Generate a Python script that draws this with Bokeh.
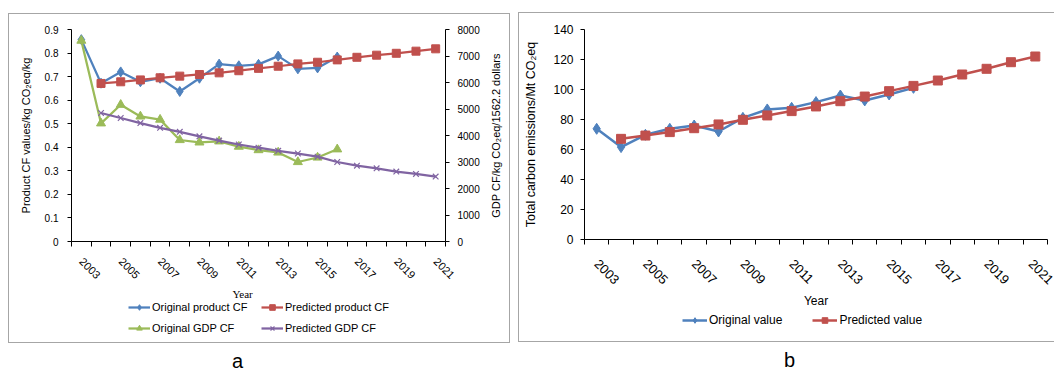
import math
from bokeh.plotting import figure
from bokeh.models import (Range1d, LinearAxis, FixedTicker, NumeralTickFormatter,
                          Legend, LegendItem, Title, Div, GlobalInlineStyleSheet)
from bokeh.layouts import row, column
from bokeh.embed import file_html
from bokeh.resources import INLINE

# ---------------- data ----------------
years = list(range(2003, 2022))
labeled_years = years[::2]
orig_years = list(range(2003, 2017))
pred_years = list(range(2004, 2022))

# panel a (left axis: kg CO2eq/kg, right axis: kg CO2eq / 1562.2 dollars)
orig_product_cf = [0.857, 0.672, 0.720, 0.678, 0.693, 0.637, 0.693, 0.753, 0.746,
                   0.752, 0.787, 0.733, 0.737, 0.783]
pred_product_cf = [0.671, 0.678, 0.686, 0.695, 0.702, 0.709, 0.716, 0.725, 0.735,
                   0.744, 0.754, 0.761, 0.771, 0.782, 0.791, 0.799, 0.808, 0.818]
orig_gdp_cf = [7580, 4460, 5160, 4720, 4600, 3830, 3740, 3780, 3580, 3450, 3360,
               3000, 3170, 3480]
pred_gdp_cf = [4850, 4660, 4470, 4290, 4140, 3970, 3810, 3660, 3540, 3420, 3320,
               3200, 3000, 2860, 2760, 2640, 2550, 2450]

# panel b (Mt CO2eq)
orig_total = [73.8, 61.6, 69.8, 73.8, 76.0, 72.0, 81.1, 86.7, 87.8, 91.6, 96.0,
              92.7, 96.7, 101.1]
pred_total = [67.1, 69.3, 71.6, 74.2, 76.7, 79.8, 82.7, 85.6, 88.7, 92.2, 95.3,
              98.9, 102.4, 106.0, 110.0, 113.8, 118.2, 122.0]

left_ticks_a = [0, 0.1, 0.2, 0.3, 0.4, 0.5, 0.6, 0.7, 0.8, 0.9]
right_ticks_a = [0, 1000, 2000, 3000, 4000, 5000, 6000, 7000, 8000]
ticks_b = [0, 20, 40, 60, 80, 100, 120, 140]

BLUE = "#4F81BD"
RED = "#C0504D"
GREEN = "#9BBB59"
PURPLE = "#8064A2"
FONT = "Liberation Sans"
BORDER = "1px solid #a6a6a6"


def xpos(yrs):
    return [years.index(y) + 0.5 for y in yrs]


def style_xaxis(ax, size, standoff):
    centers = [years.index(y) + 0.5 for y in labeled_years]
    ax.ticker = FixedTicker(ticks=centers, minor_ticks=list(range(len(years) + 1)))
    ax.major_label_overrides = {c: str(y) for c, y in zip(centers, labeled_years)}
    ax.major_tick_line_color = None
    ax.major_tick_out = 0
    ax.major_tick_in = 0
    ax.minor_tick_line_color = "black"
    ax.minor_tick_in = 0
    ax.minor_tick_out = 5
    ax.axis_line_color = "black"
    ax.major_label_orientation = -math.pi / 4
    ax.major_label_text_font = FONT
    ax.major_label_text_font_size = size
    ax.major_label_text_color = "black"
    ax.major_label_standoff = standoff


def style_yaxis(ax, size, standoff, label_standoff):
    ax.axis_line_color = "black"
    ax.major_tick_line_color = "black"
    ax.major_tick_in = 0
    ax.major_tick_out = 4
    ax.minor_tick_line_color = None
    ax.major_label_text_font = FONT
    ax.major_label_text_font_size = size
    ax.major_label_text_color = "black"
    ax.major_label_standoff = standoff
    ax.axis_label_text_font = FONT
    ax.axis_label_text_font_style = "normal"
    ax.axis_label_text_color = "black"
    ax.axis_label_standoff = label_standoff


def blank_figure(width, height, **borders):
    f = figure(width=width, height=height, x_range=Range1d(0, 1), y_range=Range1d(0, 1),
               output_backend="svg", toolbar_location=None,
               x_axis_location=None, y_axis_location=None, **borders)
    f.outline_line_color = None
    f.xgrid.grid_line_color = None
    f.ygrid.grid_line_color = None
    return f


def legend_entry(f, x, y, color, marker, size, lw):
    # one off-range sample of the series, so that the legend has a glyph to draw
    ln = f.line(x[:1], y[:1], line_color=color, line_width=lw)
    if marker == "x":
        sc = f.scatter(x[:1], y[:1], marker=marker, size=size, line_color=color, line_width=1.2)
    else:
        sc = f.scatter(x[:1], y[:1], marker=marker, size=size, fill_color=color, line_color=color)
    return [ln, sc]


# ---------------- panel a ----------------
pa = figure(width=476, height=285, x_range=Range1d(0, 19), y_range=Range1d(0, 0.9),
            output_backend="svg", toolbar_location=None,
            min_border_left=62, min_border_right=40, min_border_top=15, min_border_bottom=58)
pa.outline_line_color = None
pa.xgrid.grid_line_color = None
pa.ygrid.grid_line_color = None
pa.extra_y_ranges = {"gdp": Range1d(0, 8000)}

style_xaxis(pa.xaxis[0], "11px", 13)
ya = pa.yaxis[0]
ya.ticker = FixedTicker(ticks=left_ticks_a)
ya.formatter = NumeralTickFormatter(format="0.[0]")
ya.axis_label = "Product CF values/kg CO\u2082eq/kg"
ya.axis_label_text_font_size = "11px"
style_yaxis(ya, "10px", 9, 10)

yr = LinearAxis(y_range_name="gdp", ticker=FixedTicker(ticks=right_ticks_a))
style_yaxis(yr, "10px", 8, 0)
pa.add_layout(yr, "right")

pa.line(xpos(orig_years), orig_product_cf, line_color=BLUE, line_width=2.25)
pa.scatter(xpos(orig_years), orig_product_cf, marker="diamond", size=10,
           fill_color=BLUE, line_color=BLUE)
pa.line(xpos(pred_years), pred_product_cf, line_color=RED, line_width=2.25)
pa.scatter(xpos(pred_years), pred_product_cf, marker="square", size=8,
           fill_color=RED, line_color=RED)
pa.line(xpos(orig_years), orig_gdp_cf, line_color=GREEN, line_width=2.25,
        y_range_name="gdp")
pa.scatter(xpos(orig_years), orig_gdp_cf, marker="triangle", size=9,
           fill_color=GREEN, line_color=GREEN, y_range_name="gdp")
pa.line(xpos(pred_years), pred_gdp_cf, line_color=PURPLE, line_width=2.25,
        y_range_name="gdp")
pa.scatter(xpos(pred_years), pred_gdp_cf, marker="x", size=8,
           line_color=PURPLE, line_width=1.2, y_range_name="gdp")

pa.add_layout(Title(text="Year", align="left", offset=161, standoff=0,
                    text_font="Liberation Serif", text_font_size="11px",
                    text_font_style="normal", text_color="black"), "below")

# right-axis title (reads bottom to top, centred on the frame)
fr = blank_figure(24, 285, min_border_left=16, min_border_right=0,
                  min_border_top=15, min_border_bottom=58)
fr.add_layout(Title(text="GDP CF/kg CO\u2082eq/1562.2 dollars", align="center",
                    standoff=0, text_font=FONT, text_font_size="11px",
                    text_font_style="normal", text_color="black"), "left")

fa = blank_figure(500, 43, min_border_left=62, min_border_right=64,
                  min_border_top=0, min_border_bottom=0)
leg_a = Legend(items=[
    LegendItem(label="Original product CF",
               renderers=legend_entry(fa, orig_years, orig_product_cf, BLUE, "diamond", 8, 2.25)),
    LegendItem(label="Predicted product CF",
               renderers=legend_entry(fa, pred_years, pred_product_cf, RED, "square", 7, 2.25)),
    LegendItem(label="Original GDP CF",
               renderers=legend_entry(fa, orig_years, orig_gdp_cf, GREEN, "triangle", 8, 2.25)),
    LegendItem(label="Predicted GDP CF",
               renderers=legend_entry(fa, pred_years, pred_gdp_cf, PURPLE, "x", 7, 2.25)),
], location=(57, 7), orientation="horizontal", ncols=2,
    glyph_width=22, glyph_height=14, label_height=14, label_width=102,
    label_standoff=2, spacing=7, padding=0, margin=0,
    label_text_font=FONT, label_text_font_size="11px", label_text_color="black",
    border_line_color=None, background_fill_alpha=0)
fa.add_layout(leg_a)

box_a = column(row(pa, fr), fa, styles={"border": BORDER, "box-sizing": "content-box"})

# ---------------- panel b ----------------
pb = figure(width=535, height=300, x_range=Range1d(0, 19), y_range=Range1d(0, 140),
            output_backend="svg", toolbar_location=None,
            min_border_left=65, min_border_right=7, min_border_top=16, min_border_bottom=74)
pb.outline_line_color = None
pb.xgrid.grid_line_color = None
pb.ygrid.grid_line_color = None

style_xaxis(pb.xaxis[0], "13px", 17)
xb = pb.xaxis[0]
xb.axis_label = "Year"
xb.axis_label_text_font = FONT
xb.axis_label_text_font_size = "12px"
xb.axis_label_text_font_style = "normal"
xb.axis_label_text_color = "black"
xb.axis_label_standoff = 3

yb = pb.yaxis[0]
yb.ticker = FixedTicker(ticks=ticks_b)
yb.axis_label = "Total carbon emissions/Mt CO\u2082eq"
yb.axis_label_text_font_size = "12.5px"
style_yaxis(yb, "12px", 7, 12)

pb.line(xpos(orig_years), orig_total, line_color=BLUE, line_width=2.5)
pb.scatter(xpos(orig_years), orig_total, marker="diamond", size=11,
           fill_color=BLUE, line_color=BLUE)
pb.line(xpos(pred_years), pred_total, line_color=RED, line_width=2.5)
pb.scatter(xpos(pred_years), pred_total, marker="square", size=9,
           fill_color=RED, line_color=RED)

fb = blank_figure(535, 28, min_border_left=65, min_border_right=7,
                  min_border_top=0, min_border_bottom=0)
leg_b = Legend(items=[
    LegendItem(label="Original value",
               renderers=legend_entry(fb, orig_years, orig_total, BLUE, "diamond", 9, 2.5)),
    LegendItem(label="Predicted value",
               renderers=legend_entry(fb, pred_years, pred_total, RED, "square", 8, 2.5)),
], location=(98, 14), orientation="horizontal",
    glyph_width=25, glyph_height=14, label_height=14,
    label_standoff=2, spacing=30, padding=0, margin=0,
    label_text_font=FONT, label_text_font_size="12px", label_text_color="black",
    border_line_color=None, background_fill_alpha=0)
fb.add_layout(leg_b)

box_b = column(pb, fb, styles={"border-top": BORDER, "border-left": BORDER,
                               "border-bottom": BORDER, "box-sizing": "content-box"})

# ---------------- captions & layout ----------------
cap_a = Div(text="a", width=40, height=20, margin=(8, 0, 0, 224),
            styles={"font-size": "20px", "line-height": "20px", "font-family": FONT})
cap_b = Div(text="b", width=40, height=20, margin=(8, 0, 0, 266),
            styles={"font-size": "20px", "line-height": "20px", "font-family": FONT})

col_a = column(box_a, cap_a, margin=(13, 0, 0, 8))
col_b = column(box_b, cap_b, margin=(12, 0, 0, 0))
layout = row(col_a, col_b, spacing=8,
             stylesheets=[GlobalInlineStyleSheet(css="html, body { overflow: hidden; }")])

open("out.html", "w").write(file_html(layout, INLINE))
